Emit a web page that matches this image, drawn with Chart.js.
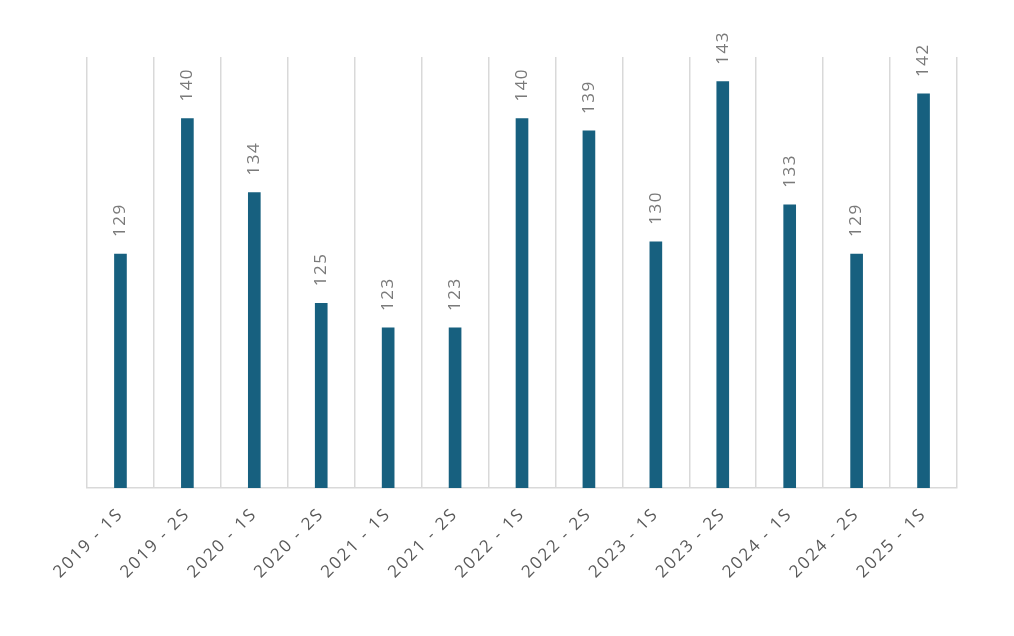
<!DOCTYPE html>
<html>
<head>
<meta charset="utf-8">
<script src="https://cdn.jsdelivr.net/npm/chart.js@4"></script>
<style>
  html, body { margin: 0; padding: 0; background: #fff; }
  #wrap { width: 1014px; height: 636px; }
</style>
</head>
<body>
<div id="wrap"><canvas id="myChart"></canvas></div>
<script>
const periodos = ['2019 - 1S', '2019 - 2S', '2020 - 1S', '2020 - 2S', '2021 - 1S', '2021 - 2S', '2022 - 1S',
  '2022 - 2S', '2023 - 1S', '2023 - 2S', '2024 - 1S', '2024 - 2S', '2025 - 1S']
const valores = [129, 140, 134, 125, 123, 123, 140, 139, 130, 143, 133, 129, 142]
const ejeMin = 110
const ejeMax = 145

// etiquetas de valor giradas encima de cada barra
const etiquetas = {
  id: 'etiquetas',
  afterDatasetsDraw(chart) {
    const ctx = chart.ctx
    const meta = chart.getDatasetMeta(0)
    ctx.save()
    ctx.letterSpacing = '1.5px'
    ctx.font = '17px "Open Sans"'
    ctx.fillStyle = '#7a7a7a'
    ctx.textAlign = 'left'
    ctx.textBaseline = 'middle'
    meta.data.forEach((bar, i) => {
      ctx.save()
      ctx.translate(bar.x, bar.y - 17)
      ctx.rotate(-Math.PI / 2)
      ctx.fillText(valores[i], 0, 0)
      ctx.restore()
    })
    ctx.restore()
  }
}

const espaciado = {
  id: 'espaciado',
  beforeDraw(chart) {
    chart.ctx.letterSpacing = '2px'
  }
}

const chart = document.getElementById('myChart')
new Chart(chart, {
  type: 'bar',
  data: {
    labels: periodos,
    datasets: [{
      data: valores,
      backgroundColor: '#17607f',
      barThickness: 12
    }]
  },
  options: {
    responsive: true,
    maintainAspectRatio: false,
    animation: false,
    layout: { padding: { left: 87, right: 57, top: 57, bottom: 0 } },
    plugins: { legend: { display: false }, tooltip: { enabled: false } },
    scales: {
      x: {
        afterFit: (s) => { s.height = 148 },
        grid: { color: '#d9d9d9', lineWidth: 1.5, offset: true, drawTicks: false },
        border: { color: '#d9d9d9', width: 1.5 },
        ticks: {
          color: '#595959',
          font: { family: 'Open Sans', size: 17 },
          minRotation: 45,
          maxRotation: 45,
          padding: 16
        }
      },
      y: {
        display: false,
        min: ejeMin,
        max: ejeMax
      }
    }
  },
  plugins: [espaciado, etiquetas]
})
</script>
</body>
</html>
